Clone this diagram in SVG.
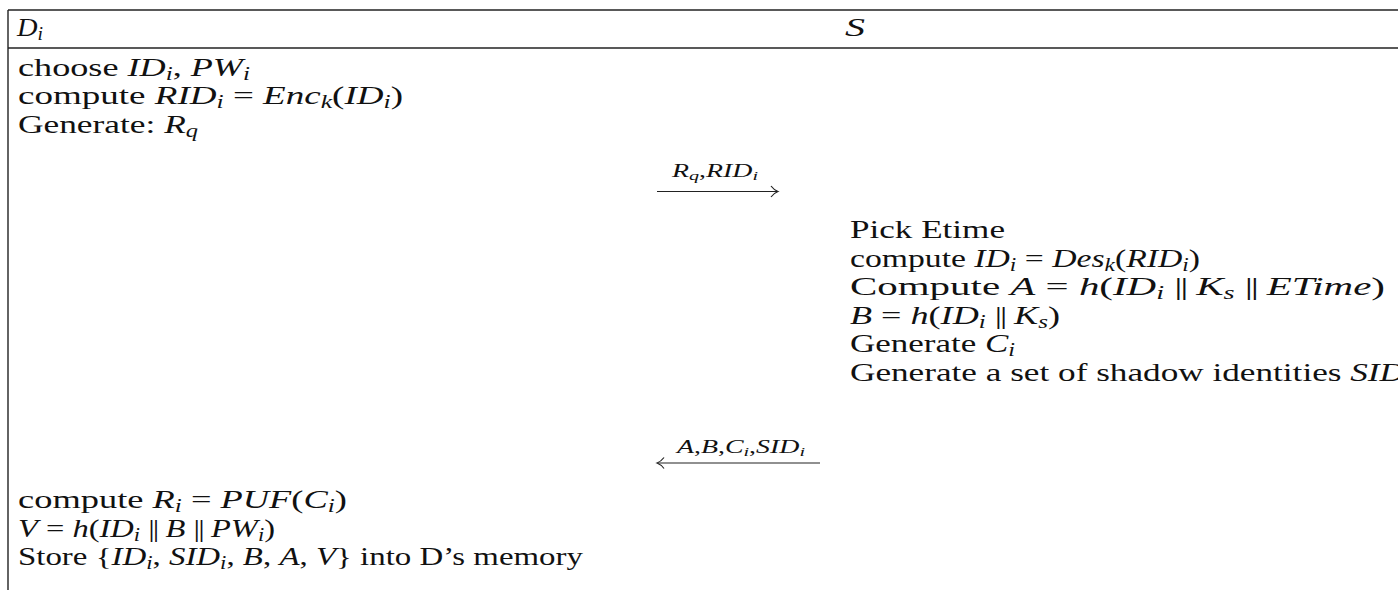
<svg xmlns="http://www.w3.org/2000/svg" width="1398" height="590" viewBox="0 0 1398 590">
  <style>
    .t{font-family:"Liberation Serif","Times New Roman",serif;font-size:26px;fill:#111}
    .m{font-style:italic}
    .s{font-style:italic;font-size:18px}
    .pp{font-style:normal;letter-spacing:-1.5px}
    .lbl{font-family:"Liberation Serif","Times New Roman",serif;font-size:18px;fill:#111}
    .ls{font-style:italic;font-size:13px}
    .rule{stroke:#222;stroke-width:1.4;fill:none}
    .wire{stroke:#222;stroke-width:1.2;fill:none}
  </style>
  <rect width="1398" height="590" fill="#fff"/>

  <!-- table frame -->
  <g id="frame">
    <line class="rule" x1="8" y1="10" x2="1398" y2="10"/>
    <line class="rule" x1="8" y1="48" x2="1398" y2="48"/>
    <line class="rule" x1="8" y1="10" x2="8" y2="590"/>
  </g>

  <!-- column headings -->
  <g id="head-device">
    <text class="t" x="17" y="36" textLength="26" lengthAdjust="spacingAndGlyphs"><tspan class="m">D</tspan><tspan class="s" dy="4">i</tspan></text>
  </g>
  <g id="head-server">
    <text class="t m" x="845" y="36" textLength="20" lengthAdjust="spacingAndGlyphs">S</text>
  </g>

  <!-- device: first steps -->
  <g id="device-request">
    <text class="t" x="18" y="75.5" textLength="232" lengthAdjust="spacingAndGlyphs">choose <tspan class="m">ID</tspan><tspan class="s" dy="4">i</tspan><tspan dy="-4">, </tspan><tspan class="m">PW</tspan><tspan class="s" dy="4">i</tspan></text>
    <text class="t" x="18" y="104" textLength="385" lengthAdjust="spacingAndGlyphs">compute <tspan class="m">RID</tspan><tspan class="s" dy="4">i</tspan><tspan dy="-4"> = </tspan><tspan class="m">Enc</tspan><tspan class="s" dy="4">k</tspan><tspan dy="-4">(</tspan><tspan class="m">ID</tspan><tspan class="s" dy="4">i</tspan><tspan dy="-4">)</tspan></text>
    <text class="t" x="18" y="132.5" textLength="180" lengthAdjust="spacingAndGlyphs">Generate:  <tspan class="m">R</tspan><tspan class="s" dy="4">q</tspan></text>
  </g>

  <!-- server: registration work -->
  <g id="server-register">
    <text class="t" x="850" y="238" textLength="155" lengthAdjust="spacingAndGlyphs">Pick Etime</text>
    <text class="t" x="850" y="266.5" textLength="350" lengthAdjust="spacingAndGlyphs">compute <tspan class="m">ID</tspan><tspan class="s" dy="4">i</tspan><tspan dy="-4"> = </tspan><tspan class="m">Des</tspan><tspan class="s" dy="4">k</tspan><tspan dy="-4">(</tspan><tspan class="m">RID</tspan><tspan class="s" dy="4">i</tspan><tspan dy="-4">)</tspan></text>
    <text class="t" x="850" y="295" textLength="535" lengthAdjust="spacingAndGlyphs">Compute <tspan class="m">A</tspan> = <tspan class="m">h</tspan>(<tspan class="m">ID</tspan><tspan class="s" dy="4">i</tspan><tspan dy="-4"> <tspan class="pp">||</tspan> </tspan><tspan class="m">K</tspan><tspan class="s" dy="4">s</tspan><tspan dy="-4"> <tspan class="pp">||</tspan> </tspan><tspan class="m">ETime</tspan>)</text>
    <text class="t" x="850" y="323.5" textLength="210" lengthAdjust="spacingAndGlyphs"><tspan class="m">B</tspan> = <tspan class="m">h</tspan>(<tspan class="m">ID</tspan><tspan class="s" dy="4">i</tspan><tspan dy="-4"> <tspan class="pp">||</tspan> </tspan><tspan class="m">K</tspan><tspan class="s" dy="4">s</tspan><tspan dy="-4">)</tspan></text>
    <text class="t" x="850" y="352" textLength="165" lengthAdjust="spacingAndGlyphs">Generate <tspan class="m">C</tspan><tspan class="s" dy="4">i</tspan></text>
    <text class="t" x="850" y="380.5" textLength="555" lengthAdjust="spacingAndGlyphs">Generate a set of shadow identities <tspan class="m">SID</tspan></text>
  </g>

  <!-- device: storing the reply -->
  <g id="device-store">
    <text class="t" x="18" y="508" textLength="329" lengthAdjust="spacingAndGlyphs">compute <tspan class="m">R</tspan><tspan class="s" dy="4">i</tspan><tspan dy="-4"> = </tspan><tspan class="m">PUF</tspan>(<tspan class="m">C</tspan><tspan class="s" dy="4">i</tspan><tspan dy="-4">)</tspan></text>
    <text class="t" x="18" y="536.5" textLength="257" lengthAdjust="spacingAndGlyphs"><tspan class="m">V</tspan> = <tspan class="m">h</tspan>(<tspan class="m">ID</tspan><tspan class="s" dy="4">i</tspan><tspan dy="-4"> <tspan class="pp">||</tspan> </tspan><tspan class="m">B</tspan> <tspan class="pp">||</tspan> <tspan class="m">PW</tspan><tspan class="s" dy="4">i</tspan><tspan dy="-4">)</tspan></text>
    <text class="t" x="18" y="565" textLength="565" lengthAdjust="spacingAndGlyphs">Store {<tspan class="m">ID</tspan><tspan class="s" dy="4">i</tspan><tspan dy="-4">, </tspan><tspan class="m">SID</tspan><tspan class="s" dy="4">i</tspan><tspan dy="-4">, </tspan><tspan class="m">B</tspan>, <tspan class="m">A</tspan>, <tspan class="m">V</tspan>} into D’s memory</text>
  </g>

  <!-- messages -->
  <g id="connectors">
    <g id="msg-request">
      <line class="wire" x1="657" y1="191.5" x2="777" y2="191.5"/>
      <path class="wire" d="M771 186 Q774 190 778 191.5 Q774 193 771 197"/>
      <text class="lbl" x="672" y="177" textLength="86" lengthAdjust="spacingAndGlyphs"><tspan class="m">R</tspan><tspan class="ls" dy="3">q</tspan><tspan dy="-3">,</tspan><tspan class="m">RID</tspan><tspan class="ls" dy="3">i</tspan></text>
    </g>
    <g id="msg-reply">
      <line class="wire" x1="658" y1="463" x2="820" y2="463"/>
      <path class="wire" d="M664 457.5 Q661 461.5 657 463 Q661 464.5 664 468.5"/>
      <text class="lbl" x="677" y="453" textLength="128" lengthAdjust="spacingAndGlyphs"><tspan class="m">A</tspan>,<tspan class="m">B</tspan>,<tspan class="m">C</tspan><tspan class="ls" dy="3">i</tspan><tspan dy="-3">,</tspan><tspan class="m">SID</tspan><tspan class="ls" dy="3">i</tspan></text>
    </g>
  </g>
</svg>
